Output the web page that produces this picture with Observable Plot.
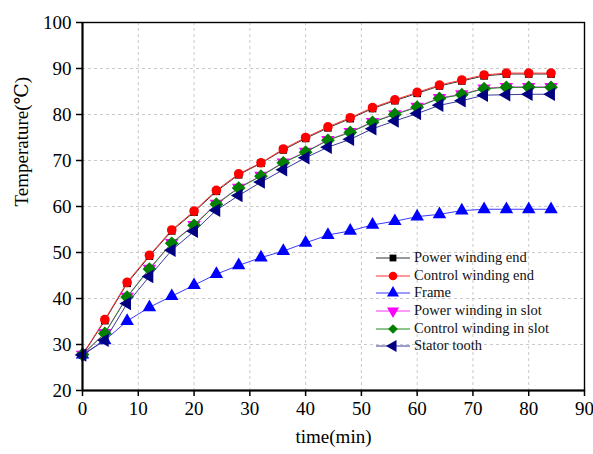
<!DOCTYPE html>
<html>
<head>
<meta charset="utf-8">
<script src="https://cdn.jsdelivr.net/npm/d3@7"></script>
<script src="https://cdn.jsdelivr.net/npm/@observablehq/plot@0.6"></script>
<style>
  html, body { margin: 0; padding: 0; background: #fff; }
  #wrap { position: relative; width: 593px; height: 454px; font-family: "Liberation Serif", "Times New Roman", Tinos, "DejaVu Serif", serif; }
  #wrap svg text { font-family: "Liberation Serif", "Times New Roman", Tinos, "DejaVu Serif", serif !important; }
  #legend { position: absolute; left: 376px; top: 249px; font-size: 14.5px; line-height: 17.7px; color: #111; }
  #legend .row { display: flex; align-items: center; height: 17.7px; white-space: nowrap; }
  #legend svg { margin-right: 4px; }
</style>
</head>
<body>
<div id="wrap"></div>
<script>
const times = [0,4,8,12,16,20,24,28,32,36,40,44,48,52,56,60,64,68,72,76,80,84];
const powerWindingEnd   = [27.7,35.2,43.3,49.2,54.7,58.8,63.3,66.9,69.4,72.3,74.8,77.1,79.1,81.3,83.0,84.6,86.2,87.3,88.4,88.8,88.8,88.8];
const controlWindingEnd = [27.8,35.4,43.5,49.4,54.9,59.0,63.5,67.1,69.5,72.5,75.0,77.3,79.3,81.5,83.2,84.8,86.4,87.5,88.6,89.0,89.0,89.0];
const frame             = [27.8,30.9,35.1,38.1,40.5,42.9,45.3,47.2,48.9,50.3,52.1,53.8,54.7,56.0,56.8,57.8,58.3,59.1,59.4,59.4,59.4,59.4];
const powerWindingSlot  = [27.8,32.5,40.4,46.5,52.1,56.0,60.6,64.1,66.7,69.6,71.9,74.5,76.2,78.4,80.1,81.7,83.6,84.4,85.7,86.0,86.0,86.0];
const controlWindingSlot= [27.8,32.4,40.3,46.4,52.0,55.9,60.5,64.0,66.6,69.5,71.8,74.4,76.1,78.3,80.0,81.6,83.5,84.3,85.6,85.9,85.9,85.9];
const statorTooth       = [27.7,30.9,38.9,44.8,50.5,54.6,59.2,62.4,65.3,68.0,70.6,72.9,74.6,76.9,78.6,80.2,82.0,83.0,84.2,84.3,84.4,84.4];
const seriesNames = ["Power winding end","Control winding end","Frame","Power winding in slot","Control winding in slot","Stator tooth"];
const xTicks = [0,10,20,30,40,50,60,70,80,90];
const yTicks = [20,30,40,50,60,70,80,90,100];

const downTriangle = {draw(ctx, size) {
  const y = -Math.sqrt(size / (Math.sqrt(3) * 3)), s3 = Math.sqrt(3);
  ctx.moveTo(0, -y * 2); ctx.lineTo(-s3 * y, y); ctx.lineTo(s3 * y, y); ctx.closePath();
}};
const leftTriangle = {draw(ctx, size) {
  const y = -Math.sqrt(size / (Math.sqrt(3) * 3)), s3 = Math.sqrt(3);
  ctx.moveTo(y * 2, 0); ctx.lineTo(-y, -s3 * y); ctx.lineTo(-y, s3 * y); ctx.closePath();
}};

const styles = [
  {values: powerWindingEnd, color: "#000000", line: "#333333", symbol: "square", r: 4.3},
  {values: controlWindingEnd, color: "#ff0000", line: "#ff3333", symbol: "circle", r: 4.8},
  {values: frame, color: "#0000ff", line: "#3a3aff", symbol: "triangle", r: 5},
  {values: powerWindingSlot, color: "#ff00ff", line: "#ff33ff", symbol: downTriangle, r: 5},
  {values: controlWindingSlot, color: "#008000", line: "#1a8a1a", symbol: "diamond2", r: 6.2},
  {values: statorTooth, color: "#000080", line: "#3a3a99", symbol: leftTriangle, r: 5}
];

const seriesMarks = [];
styles.forEach((s, i) => {
  const data = times.map((t, j) => ({t, v: s.values[j], name: seriesNames[i]}));
  seriesMarks.push(Plot.line(data, {x: "t", y: "v", stroke: s.line, strokeWidth: 1}));
  seriesMarks.push(Plot.dot(data, {x: "t", y: "v", fill: s.color, stroke: "none", symbol: s.symbol, r: s.r}));
});

const serif = "'Liberation Serif', 'Times New Roman', Tinos, 'DejaVu Serif', serif";
const chart = Plot.plot({
  width: 593, height: 454,
  marginLeft: 82, marginRight: 9, marginTop: 22, marginBottom: 64,
  style: {fontFamily: serif, background: "#fff", color: "#000"},
  x: {domain: [0, 90]},
  y: {domain: [20, 100]},
  marks: [
    Plot.gridX(xTicks, {stroke: "#bbb", strokeOpacity: 1, strokeDasharray: "3,3", strokeWidth: 0.8}),
    Plot.gridY(yTicks, {stroke: "#bbb", strokeOpacity: 1, strokeDasharray: "3,3", strokeWidth: 0.8}),
    ...seriesMarks,
    Plot.frame({stroke: "#000", strokeWidth: 1.4}),
    Plot.axisX(xTicks, {tickSize: 6, tickPadding: 5, fontSize: 19, fontFamily: serif, label: null, strokeWidth: 1.5}),
    Plot.axisY(yTicks, {tickSize: 6, tickPadding: 5, fontSize: 19, fontFamily: serif, label: null, strokeWidth: 1.5}),
    Plot.ruleX([0], {stroke: "#000", strokeWidth: 2}),
    Plot.ruleY([20], {stroke: "#000", strokeWidth: 2}),
    Plot.text(["time(min)"], {frameAnchor: "bottom", dy: 52, fontSize: 19, fontFamily: serif, fill: "#000"}),
    Plot.text(["Temperature(℃)"], {frameAnchor: "left", dx: -61, rotate: -90, fontSize: 19, fontFamily: serif, fill: "#000"})
  ]
});
const wrap = document.getElementById("wrap");
wrap.appendChild(chart);

// legend
const legend = document.createElement("div");
legend.id = "legend";
styles.forEach((s, i) => {
  const row = document.createElement("div");
  row.className = "row";
  const svg = d3.create("svg").attr("width", 34).attr("height", 14);
  svg.append("line").attr("x1", 0).attr("x2", 34).attr("y1", 7).attr("y2", 7).attr("stroke", s.line).attr("stroke-width", 1);
  const symType = typeof s.symbol === "string" ? ({square: d3.symbolSquare, circle: d3.symbolCircle, triangle: d3.symbolTriangle, diamond2: d3.symbolDiamond2})[s.symbol] : s.symbol;
  const k = s.symbol === "diamond2" ? 0.5 : 0.8;
  svg.append("path").attr("transform", "translate(17,7)").attr("d", d3.symbol(symType, s.r * s.r * Math.PI * k)()).attr("fill", s.color);
  row.appendChild(svg.node());
  const span = document.createElement("span");
  span.textContent = seriesNames[i];
  row.appendChild(span);
  legend.appendChild(row);
});
wrap.appendChild(legend);
</script>
</body>
</html>
